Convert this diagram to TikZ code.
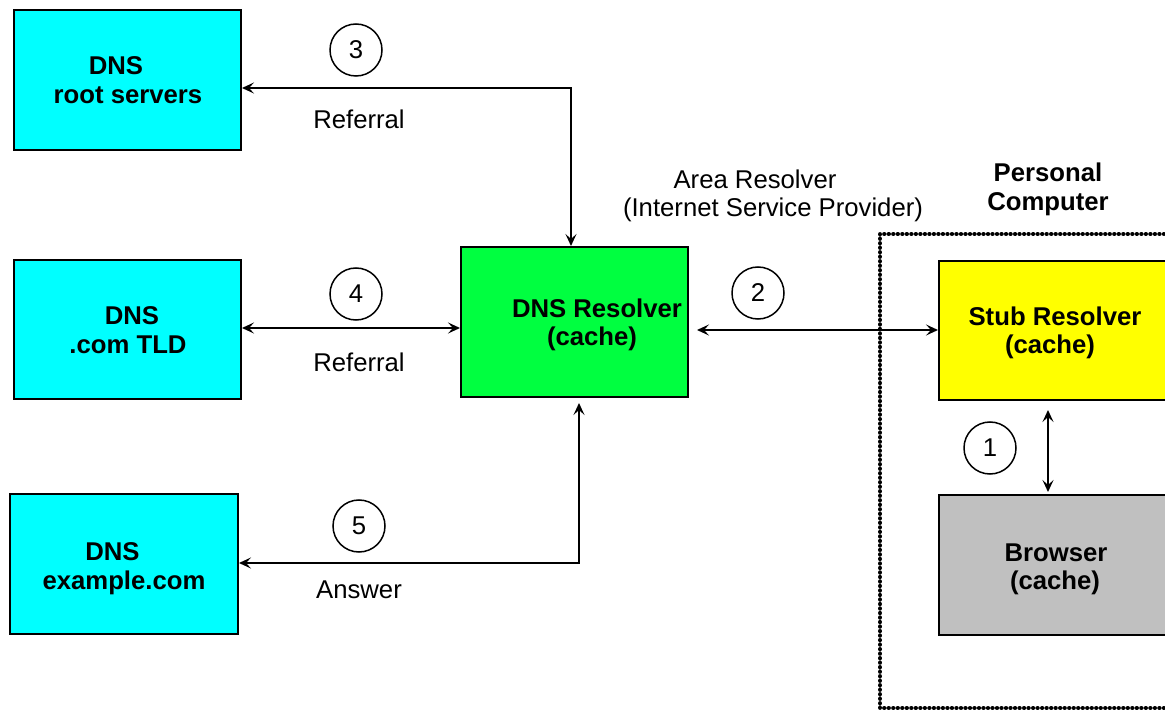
\documentclass[tikz,border=0pt]{standalone}
\usepackage{fontspec}
\setmainfont{Liberation Sans}
\usetikzlibrary{arrows.meta}
\definecolor{dnscyan}{RGB}{0,255,255}
\definecolor{dnsgreen}{RGB}{0,255,64}
\definecolor{dnsyellow}{RGB}{255,255,0}
\definecolor{dnsgray}{RGB}{192,192,192}
\tikzset{
  srv/.style={draw=black, line width=2pt, rectangle, inner sep=0pt},
  boxtext/.style={anchor=base, inner sep=0pt, font=\fontsize{25.7}{30}\selectfont\bfseries},
  plain/.style={anchor=base, inner sep=0pt, font=\fontsize{25.7}{30}\selectfont},
  stepnum/.style={draw=black, line width=1.5pt, circle, minimum size=52pt, inner sep=0pt,
    font=\fontsize{25.7}{30}\selectfont},
  link/.style={line width=2pt, {Stealth[length=12pt,width=11pt,inset=5pt]}-{Stealth[length=12pt,width=11pt,inset=5pt]}},
  pcframe/.style={line width=4.3pt, line cap=round, dash pattern=on 0.01pt off 4.5pt}
}
\begin{document}
\begin{tikzpicture}[x=1pt,y=-1pt]
\useasboundingbox (0,0) rectangle (1165,711);
\clip (0,0) rectangle (1165,711);

% servers
\node[srv, fill=dnscyan, minimum width=227pt, minimum height=140pt] (root) at (127.5,80) {};
\node[srv, fill=dnscyan, minimum width=227pt, minimum height=139pt] (tld) at (127.5,329.5) {};
\node[srv, fill=dnscyan, minimum width=228pt, minimum height=140pt] (ex) at (124,564) {};
\node[srv, fill=dnsgreen, minimum width=227pt, minimum height=150pt] (res) at (574.5,322) {};
\node[srv, fill=dnsyellow, minimum width=260pt, minimum height=139pt, anchor=north west] (stub) at (938,260) {};
\node[srv, fill=dnsgray, minimum width=260pt, minimum height=140pt, anchor=north west] (brw) at (938,494) {};

% box labels
\node[boxtext] (rootA) at (116,75) {DNS};
\node[boxtext] (rootB) at (128,104) {root servers};
\node[boxtext] (tldA) at (132,325) {DNS};
\node[boxtext] (tldB) at (128,354) {.com TLD};
\node[boxtext] (exA) at (112.5,560) {DNS};
\node[boxtext] (exB) at (124,589) {example.com};
\node[boxtext] (resA) at (597,318) {DNS Resolver};
\node[boxtext] (resB) at (592,346) {(cache)};
\node[boxtext] (stubA) at (1055,326) {Stub Resolver};
\node[boxtext] (stubB) at (1050,354) {(cache)};
\node[boxtext] (brwA) at (1056,561) {Browser};
\node[boxtext] (brwB) at (1055,589) {(cache)};
\node[boxtext] (pcA) at (1048,182) {Personal};
\node[boxtext] (pcB) at (1048,211) {Computer};

% personal computer frame
\draw[pcframe] (1200,234) -- (880,234) -- (880,708) -- (1200,708);

% connectors
\coordinate (c3) at (571,88);
\coordinate (c5) at (579,563);
\draw[link] (root.east |- c3) -- (c3) -- (res.north -| c3);
\draw[link] (tld.east |- 0,328) -- (res.west |- 0,328);
\draw[link] (ex.east |- c5) -- (c5) -- ([yshift=-5pt]res.south -| c5);
\draw[link] ([xshift=8pt]res.east |- 0,330) -- (stub.west |- 0,330);
\draw[link] ([yshift=-9pt]stub.south -| 1048,0) -- ([yshift=2pt]brw.north -| 1048,0);

% step numbers
\node[stepnum] (n1) at (990,448) {1};
\node[stepnum] (n2) at (758,293) {2};
\node[stepnum] (n3) at (356,50) {3};
\node[stepnum] (n4) at (356,294) {4};
\node[stepnum] (n5) at (359,526) {5};

% message labels
\node[plain] (l3) at (359,129) {Referral};
\node[plain] (l4) at (359,371) {Referral};
\node[plain] (l5) at (359,598) {Answer};
\node[plain] (areaA) at (755,189) {Area Resolver};
\node[plain] (areaB) at (773,217) {(Internet Service Provider)};
\end{tikzpicture}
\end{document}
